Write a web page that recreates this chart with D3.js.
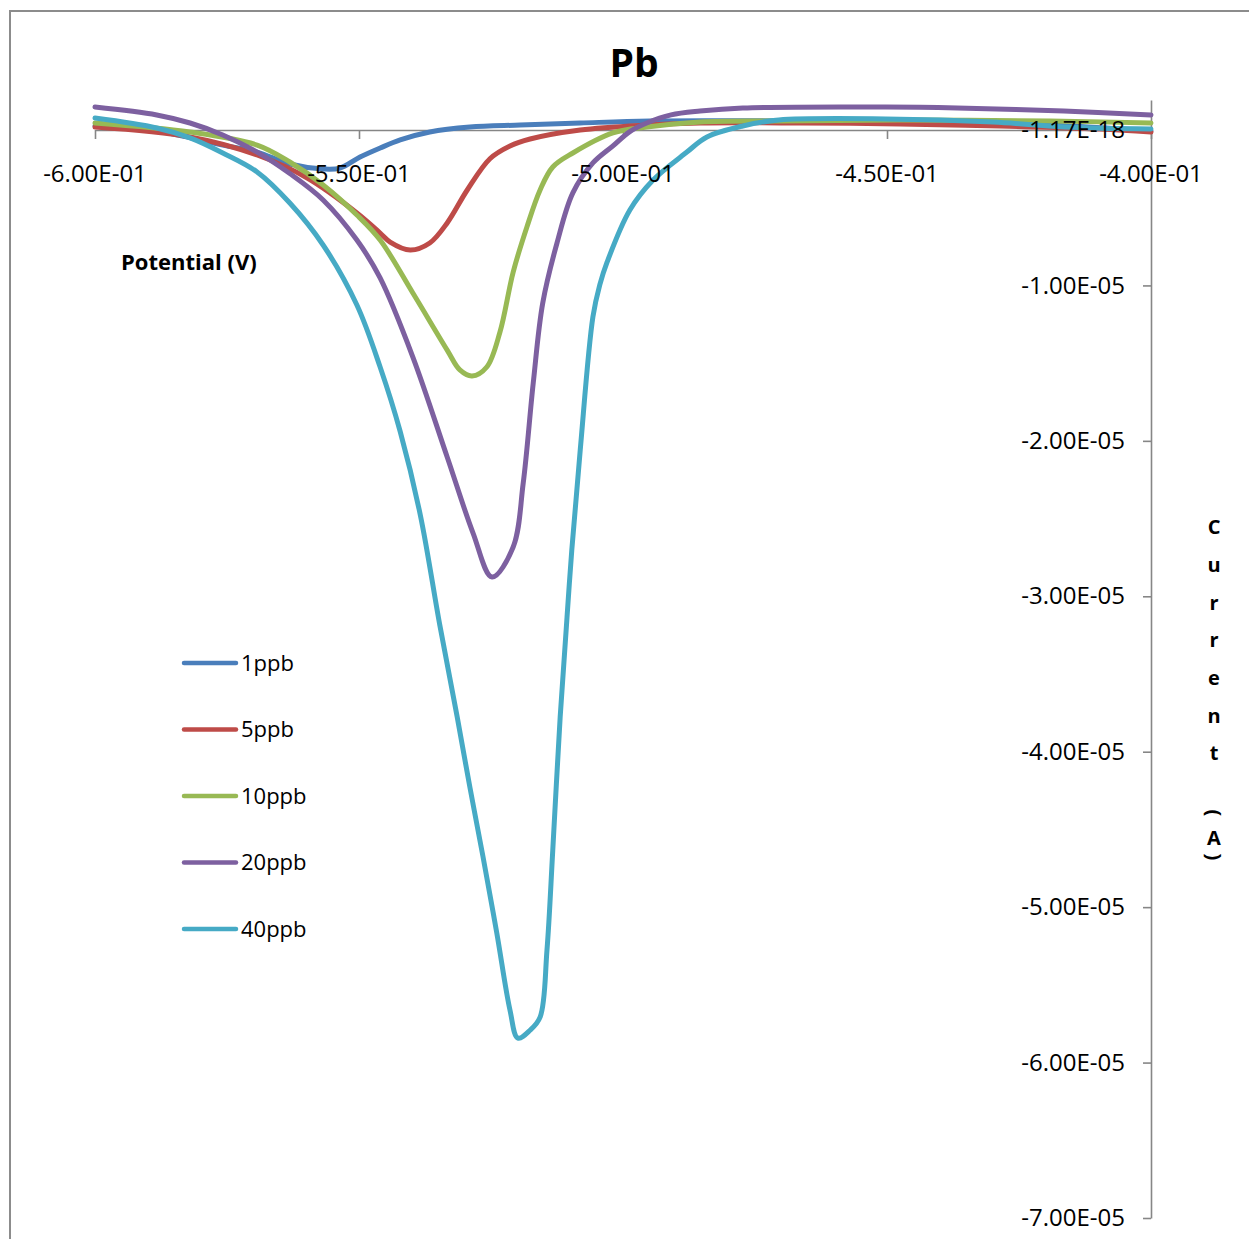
<!DOCTYPE html>
<html>
<head>
<meta charset="utf-8">
<script src="https://cdn.jsdelivr.net/npm/d3@7"></script>
<style>
  html, body { margin: 0; padding: 0; background: #ffffff; }
  svg { display: block; font-family: "Open Sans", "DejaVu Sans", sans-serif; }
</style>
</head>
<body>
<svg id="chart" width="1249" height="1239"></svg>
<script>
// ---------------- DATA ----------------
const seriesNames = ["1ppb", "5ppb", "10ppb", "20ppb", "40ppb"];

// Potential (V) and current (µA) per series
const pot1ppb = [-0.6, -0.5883, -0.5758, -0.5693, -0.5631, -0.5568, -0.5536, -0.5498, -0.5460, -0.5422, -0.5366, -0.5290, -0.5195, -0.5081, -0.4949, -0.4665, -0.4381, -0.4191, -0.4];
const cur1ppb = [0.26, -0.06, -0.97, -1.42, -2.19, -2.51, -2.45, -1.74, -1.16, -0.64, -0.13, 0.19, 0.32, 0.45, 0.58, 0.58, 0.51, 0.32, -0.06];

const pot5ppb = [-0.6, -0.5820, -0.5693, -0.5598, -0.5504, -0.5460, -0.5441, -0.5403, -0.5366, -0.5333, -0.5295, -0.5252, -0.5214, -0.5176, -0.5081, -0.4955, -0.4854, -0.4665, -0.4475, -0.4286, -0.4097, -0.4];
const cur5ppb = [0.19, -0.45, -1.61, -3.09, -5.34, -6.63, -7.21, -7.72, -7.27, -5.98, -3.86, -1.85, -1.03, -0.58, 0.0, 0.32, 0.45, 0.45, 0.39, 0.26, 0.06, -0.13];

const pot10ppb = [-0.6, -0.5820, -0.5693, -0.5631, -0.5568, -0.5504, -0.5460, -0.5398, -0.5333, -0.5309, -0.5286, -0.5258, -0.5233, -0.5208, -0.5182, -0.5157, -0.5133, -0.5095, -0.5019, -0.4955, -0.4854, -0.4705, -0.4475, -0.4191, -0.4];
const cur10ppb = [0.45, -0.13, -0.97, -2.06, -3.54, -5.47, -7.08, -10.49, -14.16, -15.44, -15.83, -15.25, -13.0, -9.14, -6.24, -3.86, -2.38, -1.48, -0.19, 0.19, 0.51, 0.58, 0.64, 0.58, 0.45];

const pot20ppb = [-0.6, -0.5883, -0.5820, -0.5758, -0.5693, -0.5631, -0.5568, -0.5504, -0.5460, -0.5398, -0.5333, -0.5284, -0.5248, -0.5208, -0.5189, -0.5170, -0.5152, -0.5125, -0.5095, -0.5057, -0.5019, -0.4987, -0.4955, -0.4909, -0.4854, -0.4773, -0.4502, -0.4367, -0.4165, -0.4];
const cur20ppb = [1.48, 0.97, 0.45, -0.32, -1.42, -2.80, -4.50, -7.08, -9.52, -14.61, -21.04, -25.93, -28.76, -26.83, -22.72, -16.28, -11.13, -7.27, -4.05, -2.12, -1.02, -0.10, 0.45, 0.97, 1.22, 1.42, 1.48, 1.42, 1.22, 0.97];

const pot40ppb = [-0.6, -0.5883, -0.5820, -0.5758, -0.5693, -0.5631, -0.5568, -0.5504, -0.5460, -0.5422, -0.5384, -0.5347, -0.5314, -0.5290, -0.5265, -0.5239, -0.5214, -0.5199, -0.5176, -0.5157, -0.5144, -0.5133, -0.5119, -0.5106, -0.5097, -0.5081, -0.5057, -0.5044, -0.5030, -0.4987, -0.4943, -0.4879, -0.4841, -0.4773, -0.4705, -0.4502, -0.4299, -0.4165, -0.4];
const cur40ppb = [0.77, 0.13, -0.51, -1.48, -2.70, -4.70, -7.40, -11.26, -15.25, -19.40, -24.75, -31.85, -37.77, -42.28, -46.78, -51.67, -56.63, -58.43, -57.92, -57.08, -52.77, -46.33, -37.77, -31.34, -27.03, -20.59, -12.03, -9.97, -8.49, -5.15, -3.22, -1.42, -0.45, 0.26, 0.64, 0.71, 0.51, 0.19, 0.06];

const xTickValues = [-0.6, -0.55, -0.5, -0.45, -0.4];
const xTickLabels = ["-6.00E-01", "-5.50E-01", "-5.00E-01", "-4.50E-01", "-4.00E-01"];
const yTickValues = [0, -1e-5, -2e-5, -3e-5, -4e-5, -5e-5, -6e-5, -7e-5];
const yTickLabels = ["-1.17E-18", "-1.00E-05", "-2.00E-05", "-3.00E-05", "-4.00E-05", "-5.00E-05", "-6.00E-05", "-7.00E-05"];
const xDomain = [-0.6, -0.4];
const yDomain = [-7e-5, 1.93e-6];

const titleText = "Pb";
const xTitle = "Potential (V)";
const yTitle = "Current (A)";

// ---------------- STYLE ----------------
const colors = ["#4A7EBB", "#BE4B48", "#98B954", "#7D60A0", "#46AAC5"];
const axisColor = "#868686";

const svg = d3.select("#chart");

// outer frame
svg.append("path")
  .attr("d", "M10,1239 V11 H1249")
  .attr("fill", "none").attr("stroke", "#8c8c8c").attr("stroke-width", 2);

const x = d3.scaleLinear().domain(xDomain).range([95, 1151]);
const y = d3.scaleLinear().domain(yDomain).range([1218, 100]);

// x axis (crosses at 0)
const xAxis = svg.append("g")
  .attr("transform", `translate(0,${y(0)})`)
  .call(d3.axisBottom(x).tickValues(xTickValues)
    .tickFormat((d, i) => xTickLabels[i]).tickSize(9).tickSizeOuter(0).tickPadding(26));
xAxis.select(".domain").attr("stroke", axisColor).attr("stroke-width", 1.6);
xAxis.selectAll(".tick line").attr("stroke", axisColor).attr("stroke-width", 1.6);
xAxis.selectAll(".tick text").remove();

// y axis on the right
const yAxis = svg.append("g")
  .attr("transform", `translate(${x(-0.4)},0)`)
  .call(d3.axisLeft(y).tickValues(yTickValues)
    .tickFormat((d, i) => yTickLabels[i]).tickSize(8).tickSizeOuter(0).tickPadding(18));
yAxis.select(".domain").attr("stroke", axisColor).attr("stroke-width", 1.6);
yAxis.selectAll(".tick line").attr("stroke", axisColor).attr("stroke-width", 1.6);
yAxis.selectAll(".tick text").remove();

// series lines
const allSeries = [
  pot1ppb.map((v, i) => [v, cur1ppb[i] * 1e-6]),
  pot5ppb.map((v, i) => [v, cur5ppb[i] * 1e-6]),
  pot10ppb.map((v, i) => [v, cur10ppb[i] * 1e-6]),
  pot20ppb.map((v, i) => [v, cur20ppb[i] * 1e-6]),
  pot40ppb.map((v, i) => [v, cur40ppb[i] * 1e-6])
];
const line = d3.line().x(d => x(d[0])).y(d => y(d[1])).curve(d3.curveCatmullRom.alpha(0.5));
svg.append("g").selectAll("path").data(allSeries).join("path")
  .attr("d", line)
  .attr("fill", "none")
  .attr("stroke", (d, i) => colors[i])
  .attr("stroke-width", 5)
  .attr("stroke-linejoin", "round")
  .attr("stroke-linecap", "round");

// tick labels drawn above series
const tickFont = 24;
svg.append("g").selectAll("text").data(xTickValues).join("text")
  .attr("x", d => x(d)).attr("y", y(0) + 35).attr("dy", "0.71em")
  .attr("text-anchor", "middle").attr("font-size", tickFont).attr("fill", "#000")
  .text((d, i) => xTickLabels[i]);
svg.append("g").selectAll("text").data(yTickValues).join("text")
  .attr("x", x(-0.4) - 26).attr("y", d => y(d)).attr("dy", "0.34em")
  .attr("text-anchor", "end").attr("font-size", tickFont).attr("fill", "#000")
  .text((d, i) => yTickLabels[i]);

// title
svg.append("text").attr("x", 634).attr("y", 77).attr("text-anchor", "middle")
  .attr("font-size", 39).attr("font-weight", "bold").attr("fill", "#000").text(titleText);

// x axis title
svg.append("text").attr("x", 121).attr("y", 270)
  .attr("font-size", 22).attr("font-weight", "bold").attr("fill", "#000").text(xTitle);

// y axis title: stacked characters
const yChars = yTitle.split("");
let cy = 527;
const yTitleG = svg.append("g");
yChars.forEach((ch, i) => {
  if (ch === " ") { cy += 22; return; }
  const isParen = ch === "(" || ch === ")";
  const t = yTitleG.append("text")
    .attr("font-size", 20).attr("font-weight", "bold").attr("fill", "#000")
    .attr("text-anchor", "middle").attr("dy", "0.36em").text(ch);
  if (isParen) {
    t.attr("transform", `translate(1214,${cy}) rotate(90)`);
  } else {
    t.attr("x", 1214).attr("y", cy);
  }
  if (ch === "(") cy += 25;
  else if (ch === "A") cy += 19;
  else cy += 37.7;
});

// legend
const legend = svg.append("g");
seriesNames.forEach((name, i) => {
  const ly = 663 + i * 66.5;
  legend.append("line").attr("x1", 184).attr("x2", 236).attr("y1", ly).attr("y2", ly)
    .attr("stroke", colors[i]).attr("stroke-width", 4.5).attr("stroke-linecap", "round");
  legend.append("text").attr("x", 241).attr("y", ly).attr("dy", "0.36em")
    .attr("font-size", 22).attr("fill", "#000").text(name);
});
</script>
</body>
</html>
